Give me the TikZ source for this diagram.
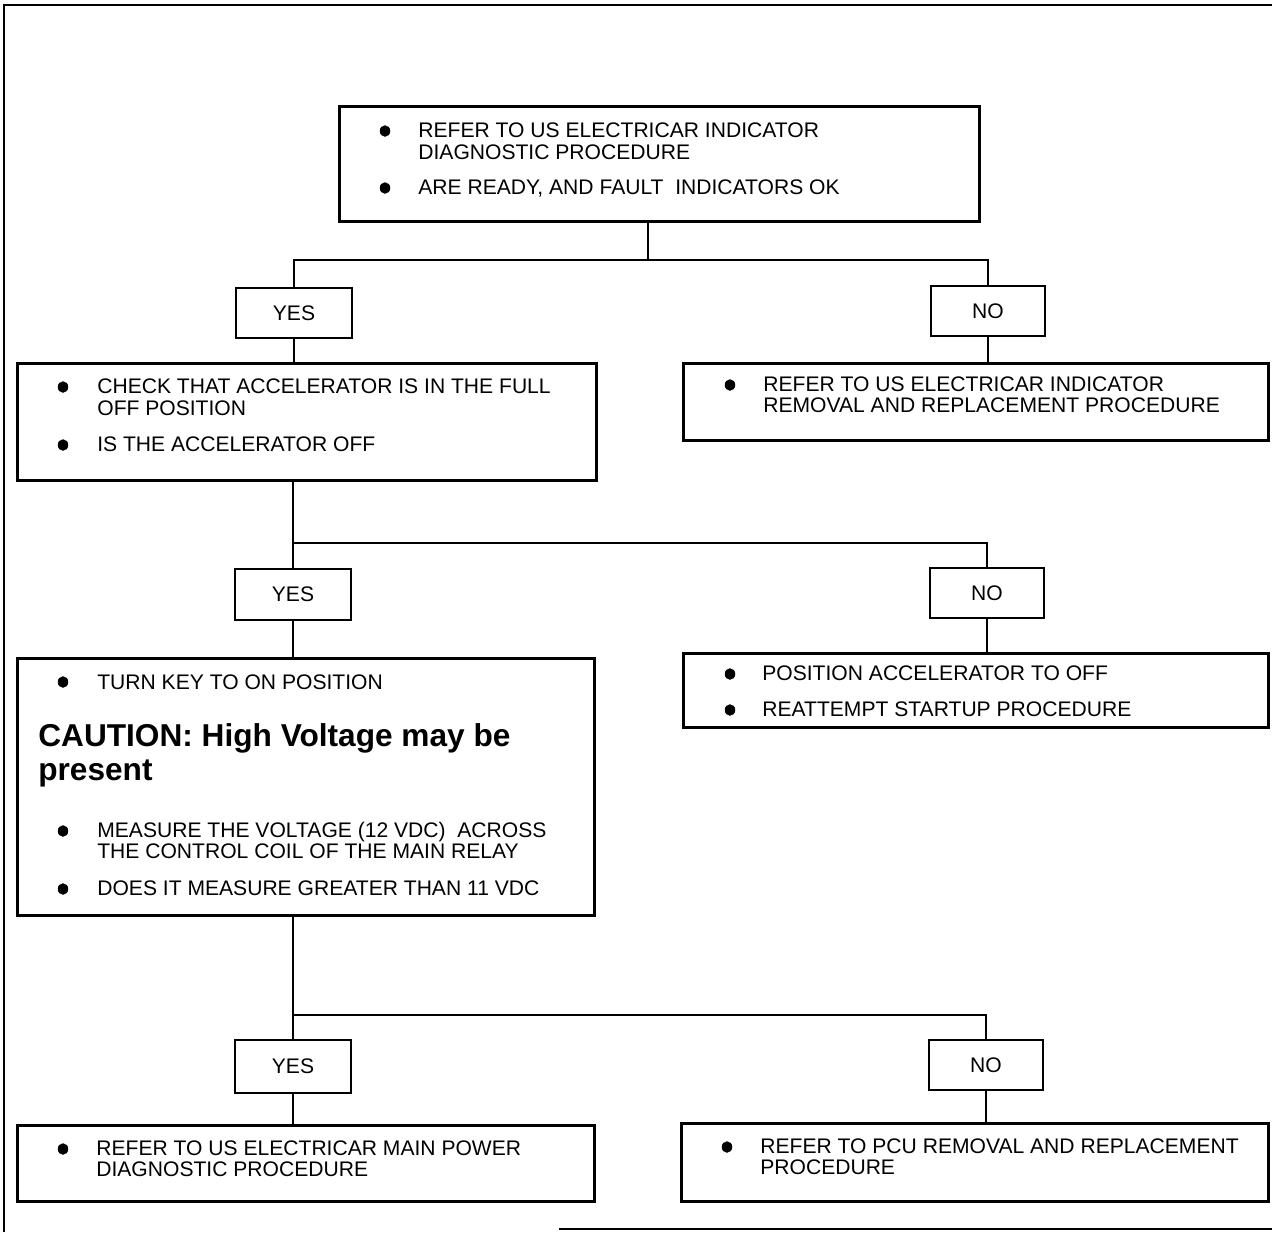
\documentclass[tikz,border=0pt]{standalone}
\usepackage{fontspec}
\setmainfont{Liberation Sans}
\usetikzlibrary{shapes.geometric}
\begin{document}
\begin{tikzpicture}[x=0.02cm,y=-0.02cm,
  box/.style={draw,line width=1.6pt,anchor=north west,inner sep=0pt},
  lbl/.style={draw,line width=1.6pt,inner sep=0pt,font=\fontsize{12}{14}\selectfont},
  txt/.style={anchor=base west,inner sep=0pt,font=\fontsize{12}{14}\selectfont},
  warn/.style={anchor=base west,inner sep=0pt,font=\fontsize{18}{21}\selectfont\bfseries},
  dot/.style={ellipse,fill=black,inner sep=0pt,minimum width=0.21cm,minimum height=0.23cm},
  wire/.style={line width=1.4pt},
  frame/.style={line width=1.6pt}]
\useasboundingbox (0,0) rectangle (1272,1232);
% outer frame
\coordinate (fa) at (4,1232);
\coordinate (fb) at (4,5);
\coordinate (fc) at (1272,5);
\coordinate (fd) at (559,1229);
\coordinate (fe) at (1272,1229);
\draw[frame] (fa) -- (fb) -- (fc);
\draw[line width=0.8pt] (fd) -- (fe);

% boxes
\node[box,minimum width=12.8cm,minimum height=2.3cm] (b1) at (338,105) {};
\node[lbl,minimum width=2.32cm,minimum height=1.0cm] (y1) at (294,313) {YES};
\node[lbl,minimum width=2.28cm,minimum height=1.0cm] (n1) at (988,311) {NO};
\node[box,minimum width=11.58cm,minimum height=2.34cm] (b2) at (16,362) {};
\node[box,minimum width=11.7cm,minimum height=1.54cm] (b3) at (682,362) {};
\node[lbl,minimum width=2.32cm,minimum height=1.02cm] (y2) at (293,594.5) {YES};
\node[lbl,minimum width=2.28cm,minimum height=1.0cm] (n2) at (987,593) {NO};
\node[box,minimum width=11.54cm,minimum height=5.14cm] (b4) at (16,657) {};
\node[box,minimum width=11.7cm,minimum height=1.48cm] (b5) at (682,652) {};
\node[lbl,minimum width=2.32cm,minimum height=1.06cm] (y3) at (293,1066.5) {YES};
\node[lbl,minimum width=2.28cm,minimum height=1.0cm] (n3) at (986,1065) {NO};
\node[box,minimum width=11.54cm,minimum height=1.52cm] (b6) at (16,1124) {};
\node[box,minimum width=11.74cm,minimum height=1.56cm] (b7) at (680,1122) {};

% connectors
\coordinate (j1) at (648,260);
\coordinate (j2) at (293,543);
\coordinate (j3) at (293,1015);
\draw[wire] (j1 |- b1.south) -- (j1);
\draw[wire] (y1.north) |- (j1) -| (n1.north);
\draw[wire] (y1.south) -- (y1.south |- b2.north);
\draw[wire] (n1.south) -- (n1.south |- b3.north);
\draw[wire] (j2 |- b2.south) -- (j2);
\draw[wire] (y2.north) |- (j2) -| (n2.north);
\draw[wire] (y2.south) -- (y2.south |- b4.north);
\draw[wire] (n2.south) -- (n2.south |- b5.north);
\draw[wire] (j3 |- b4.south) -- (j3);
\draw[wire] (y3.north) |- (j3) -| (n3.north);
\draw[wire] (y3.south) -- (y3.south |- b6.north);
\draw[wire] (n3.south) -- (n3.south |- b7.north);

% texts box 1
\node[dot] (d1a) at (385,131) {};
\node[txt] (t1a) at (418,137.5) {REFER TO US ELECTRICAR INDICATOR};
\node[txt] (t1b) at (418,159.5) {DIAGNOSTIC PROCEDURE};
\node[dot] (d1b) at (385,188) {};
\node[txt] (t1c) at (418,194.5) {ARE READY, AND FAULT\ \ INDICATORS OK};

% box 2
\node[dot] (d2a) at (63,387) {};
\node[txt] (t2a) at (97,393.5) {CHECK THAT ACCELERATOR IS IN THE FULL};
\node[txt] (t2b) at (97,415.5) {OFF POSITION};
\node[dot] (d2b) at (63,445) {};
\node[txt] (t2c) at (97,451.5) {IS THE ACCELERATOR OFF};

% box 3
\node[dot] (d3a) at (730,385) {};
\node[txt] (t3a) at (763,391.5) {REFER TO US ELECTRICAR INDICATOR};
\node[txt] (t3b) at (763,412.5) {REMOVAL AND REPLACEMENT PROCEDURE};

% box 4
\node[dot] (d4a) at (63,682) {};
\node[txt] (t4a) at (97,689) {TURN KEY TO ON POSITION};
\node[warn] (w4a) at (38,746) {CAUTION: High Voltage may be};
\node[warn] (w4b) at (38,780) {present};
\node[dot] (d4b) at (63,831) {};
\node[txt] (t4b) at (97,837.5) {MEASURE THE VOLTAGE (12 VDC)\ \ ACROSS};
\node[txt] (t4c) at (97,858) {THE CONTROL COIL OF THE MAIN RELAY};
\node[dot] (d4c) at (63,889) {};
\node[txt] (t4d) at (97,895.5) {DOES IT MEASURE GREATER THAN 11 VDC};

% box 5
\node[dot] (d5a) at (730,674) {};
\node[txt] (t5a) at (762,680.5) {POSITION ACCELERATOR TO OFF};
\node[dot] (d5b) at (730,710) {};
\node[txt] (t5b) at (762,716.5) {REATTEMPT STARTUP PROCEDURE};

% box 6
\node[dot] (d6a) at (63,1149) {};
\node[txt] (t6a) at (96,1155.5) {REFER TO US ELECTRICAR MAIN POWER};
\node[txt] (t6b) at (96,1176.5) {DIAGNOSTIC PROCEDURE};

% box 7
\node[dot] (d7a) at (727,1147) {};
\node[txt] (t7a) at (760,1153.5) {REFER TO PCU REMOVAL AND REPLACEMENT};
\node[txt] (t7b) at (760,1174.5) {PROCEDURE};
\end{tikzpicture}
\end{document}
